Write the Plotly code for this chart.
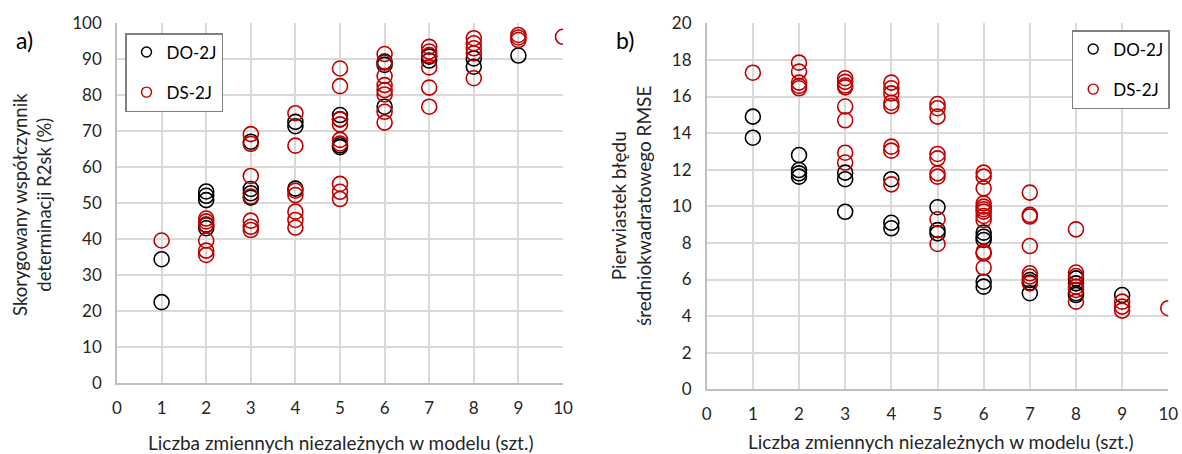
import plotly.graph_objects as go

# --- a) adjusted R2 (%) ---
r2_do_x = [1, 1, 2, 2, 2, 2, 2, 3, 3, 3, 3, 4, 4, 4, 5, 5, 5, 5, 6, 6, 6, 7, 7, 8, 8, 9]
r2_do_y = [34.4, 22.5, 53.2, 52.0, 50.8, 44.0, 43.0, 67.0, 53.9, 52.7, 51.5, 72.5, 71.3, 54.0,
           74.4, 73.2, 66.0, 65.5, 89.2, 88.3, 76.7, 90.6, 89.5, 90.1, 87.8, 90.9]
r2_ds_x = [1, 2, 2, 2, 2, 2, 2, 3, 3, 3, 3, 3, 3, 3, 4, 4, 4, 4, 4, 4, 4,
           5, 5, 5, 5, 5, 5, 5, 5, 5, 6, 6, 6, 6, 6, 6, 6, 6,
           7, 7, 7, 7, 7, 7, 8, 8, 8, 8, 8, 9, 9, 9, 10]
r2_ds_y = [39.6, 45.7, 44.9, 43.8, 39.6, 36.8, 35.6, 69.1, 66.4, 57.5, 51.8, 45.1, 43.4, 42.5,
           74.9, 65.9, 53.4, 52.2, 47.6, 45.3, 43.2,
           87.3, 82.4, 73.2, 71.8, 67.5, 66.5, 55.3, 53.1, 51.1,
           91.3, 88.9, 85.2, 82.7, 81.3, 80.1, 75.3, 72.3,
           93.3, 92.0, 91.0, 87.6, 82.0, 76.7, 95.7, 94.3, 92.9, 91.5, 84.6,
           96.6, 95.9, 95.2, 96.1]

# --- b) RMSE ---
rmse_do_x = [1, 1, 2, 2, 2, 2, 3, 3, 3, 4, 4, 4, 5, 5, 5, 6, 6, 6, 6, 6, 7, 7, 7, 8, 8, 8, 8, 9]
rmse_do_y = [14.9, 13.75, 12.8, 11.98, 11.8, 11.62, 11.84, 11.48, 9.7, 11.48, 9.1, 8.8,
             9.95, 8.7, 8.52, 8.56, 8.34, 8.16, 5.88, 5.61, 5.97, 5.83, 5.25, 6.06, 5.79, 5.25, 5.15, 5.15]
rmse_ds_x = [1, 2, 2, 2, 2, 2, 3, 3, 3, 3, 3, 3, 3, 3, 4, 4, 4, 4, 4, 4, 4, 4,
             5, 5, 5, 5, 5, 5, 5, 5, 5, 6, 6, 6, 6, 6, 6, 6, 6, 6, 6, 6, 6,
             7, 7, 7, 7, 7, 7, 7, 8, 8, 8, 8, 8, 8, 9, 9, 9, 10]
rmse_ds_y = [17.3, 17.85, 17.36, 16.76, 16.58, 16.45, 17.0, 16.8, 16.6, 16.5, 15.45, 14.7, 12.93, 12.39,
             16.76, 16.45, 16.17, 15.66, 15.48, 13.26, 13.04, 11.2,
             15.59, 15.36, 14.9, 12.86, 12.62, 11.8, 11.62, 9.29, 7.94,
             11.84, 11.62, 10.98, 10.16, 9.98, 9.84, 9.71, 9.47, 9.25, 7.52, 7.43, 6.65,
             10.75, 9.53, 9.44, 7.83, 6.34, 6.16, 5.79, 8.74, 6.38, 6.19, 5.61, 5.43, 4.79,
             4.79, 4.52, 4.3, 4.43]

x_ticks = list(range(0, 11))
FONT = "Lato"
TXT = "#262626"
BLACK = "#000000"
RED = "#c00000"
W, H = 1182, 454


def px(x):
    return x / W


def py(y):
    return 1 - y / H


fig = go.Figure()


def add_series(x, y, color, xa, ya):
    fig.add_trace(go.Scatter(
        x=x, y=y, mode="markers", xaxis=xa, yaxis=ya, showlegend=False,
        marker=dict(symbol="circle-open", size=15, color=color, line=dict(width=1.6, color=color)),
    ))


def add_legend_entry(color, name, legend, group):
    # small marker for the legend only
    fig.add_trace(go.Scatter(
        x=[None], y=[None], mode="markers", name=name, legend=legend, legendgroup=group,
        marker=dict(symbol="circle-open", size=10, color=color, line=dict(width=1.4, color=color)),
    ))


add_series(r2_do_x, r2_do_y, BLACK, "x", "y")
add_series(r2_ds_x, r2_ds_y, RED, "x", "y")
add_series(rmse_do_x, rmse_do_y, BLACK, "x2", "y2")
add_series(rmse_ds_x, rmse_ds_y, RED, "x2", "y2")
add_legend_entry(BLACK, "DO-2J", "legend", "a1")
add_legend_entry(RED, "DS-2J", "legend", "a2")
add_legend_entry(BLACK, "DO-2J", "legend2", "b1")
add_legend_entry(RED, "DS-2J", "legend2", "b2")

axis_common = dict(
    showgrid=True, gridcolor="#d9d9d9", gridwidth=1.5,
    showline=True, linecolor="#bfbfbf", linewidth=1.5,
    zeroline=False, ticks="", automargin=False,
    tickfont=dict(family=FONT, size=17, color=TXT),
)

legend_common = dict(
    xanchor="left", yanchor="top", bgcolor="white", bordercolor="#808080", borderwidth=1.5,
    font=dict(family=FONT, size=17, color="#000000"), tracegroupgap=15, itemsizing="trace",
)

fig.update_layout(
    width=W, height=H,
    margin=dict(l=0, r=0, t=0, b=0),
    paper_bgcolor="white", plot_bgcolor="white",
    font=dict(family=FONT, color=TXT),
    xaxis=dict(domain=[px(117), px(563)], range=[0, 10], tickvals=x_ticks, anchor="y",
               ticklabelstandoff=9, **axis_common),
    yaxis=dict(domain=[py(383.3), py(22.7)], range=[0, 100], dtick=10, anchor="x",
               ticklabelstandoff=10, **axis_common),
    xaxis2=dict(domain=[px(706.7), px(1168.3)], range=[0, 10], tickvals=x_ticks, anchor="y2",
                ticklabelstandoff=9, **axis_common),
    yaxis2=dict(domain=[py(389.3), py(23.3)], range=[0, 20], dtick=2, anchor="x2",
                ticklabelstandoff=10, **axis_common),
    legend=dict(x=px(125), y=py(33), **legend_common),
    legend2=dict(x=px(1071.7), y=py(30), **legend_common),
)

annotations = [
    dict(text="a)", x=px(14), y=py(40), xanchor="left", yanchor="middle", font=dict(size=23, color="#000000")),
    dict(text="b)", x=px(614), y=py(40), xanchor="left", yanchor="middle", font=dict(size=23, color="#000000")),
    dict(text="Skorygowany współczynnik<br>determinacji R2sk (%)", x=px(32), y=py(205), textangle=-90,
         xanchor="center", yanchor="middle", font=dict(size=18.5, color=TXT)),
    dict(text="Pierwiastek błędu<br>średniokwadratowego RMSE", x=px(631), y=py(206), textangle=-90,
         xanchor="center", yanchor="middle", font=dict(size=19, color=TXT)),
    dict(text="Liczba zmiennych niezależnych w modelu (szt.)", x=px(340), y=py(442),
         xanchor="center", yanchor="middle", font=dict(size=19, color=TXT)),
    dict(text="Liczba zmiennych niezależnych w modelu (szt.)", x=px(940), y=py(441),
         xanchor="center", yanchor="middle", font=dict(size=19, color=TXT)),
]
for a in annotations:
    fig.add_annotation(xref="paper", yref="paper", showarrow=False, **a)

# drop the default body margin so the 1182x454 figure fills the window exactly
fig.write_html("out.html", config={"displayModeBar": False},
               post_script="document.body.style.margin='0';document.body.style.overflow='hidden';")
